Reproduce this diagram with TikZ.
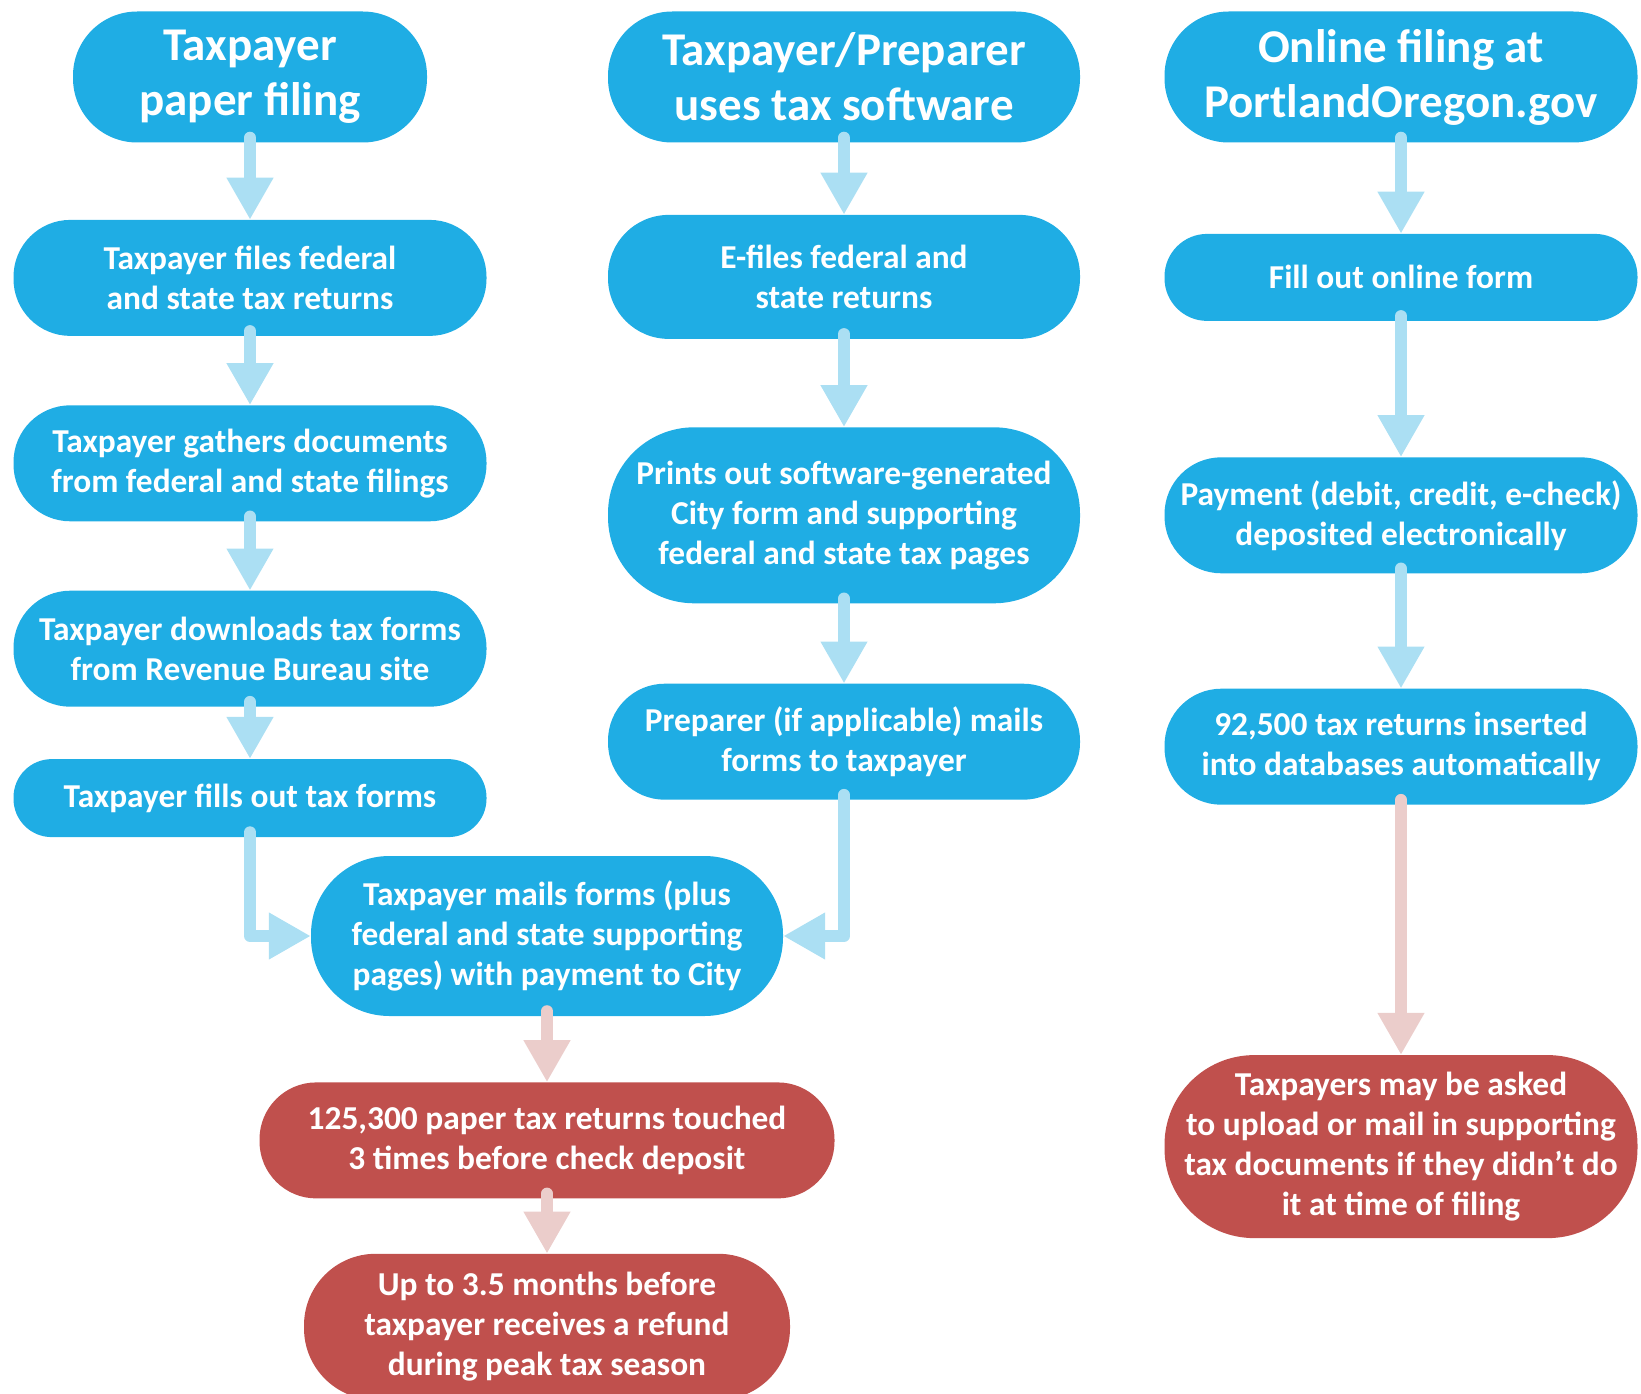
\documentclass[tikz,border=0pt]{standalone}
\usepackage{fontspec}
\setmainfont{Carlito}
\usepackage{xcolor}
\usepackage{tikz}
\definecolor{taxblue}{HTML}{1FADE4}
\definecolor{taxred}{HTML}{C0504D}
\definecolor{arrowblue}{HTML}{ABDFF3}
\definecolor{arrowpink}{HTML}{EBCDCB}
\tikzstyle{blueblock} = [rectangle, fill=taxblue, text=white, align=center,
    inner sep=0pt, font=\bfseries\fontsize{33.4}{40}\selectfont]
\tikzstyle{redblock} = [blueblock, fill=taxred]
\tikzstyle{headblock} = [blueblock, font=\bfseries\fontsize{47}{55}\selectfont]
\tikzstyle{bluearrow} = [draw=arrowblue, line width=12pt, line cap=round,
    line join=round, -{Triangle[length=42pt,width=44pt]}]
\tikzstyle{redarrow} = [bluearrow, draw=arrowpink]
\tikzset{pill/.style 2 args={minimum width=#1pt, minimum height=#2pt, rounded corners=#2*0.49pt}}
\usetikzlibrary{arrows.meta}
\usetikzlibrary{positioning}

\begin{document}
\begin{tikzpicture}[x=1pt,y=-1pt]
    \useasboundingbox (0,0) rectangle (1641,1394);

    % paper filing
    \node[headblock, pill={354}{131}] (paper) at (250,77) {Taxpayer\\paper filing};
    \node[blueblock, pill={473}{116}, below=77pt of paper] (files) {Taxpayer files federal\\and state tax returns};
    \node[blueblock, pill={473}{116}, below=69pt of files] (gathers) {Taxpayer gathers documents\\from federal and state filings};
    \node[blueblock, pill={473}{116}, below=69pt of gathers] (downloads) {Taxpayer downloads tax forms\\from Revenue Bureau site};
    \node[blueblock, pill={473}{78}, below=52pt of downloads] (fills) {Taxpayer fills out tax forms};

    \draw[bluearrow] ([yshift=5pt]paper.south) -- (files.north);
    \draw[bluearrow] ([yshift=5pt]files.south) -- (gathers.north);
    \draw[bluearrow] ([yshift=5pt]gathers.south) -- (downloads.north);
    \draw[bluearrow] ([yshift=5pt]downloads.south) -- (fills.north);

    % tax software
    \node[headblock, pill={472}{131}] (software) at (844,77) {Taxpayer/Preparer\\uses tax software};
    \node[blueblock, pill={472}{124}, below=72pt of software] (efiles) {E-files federal and\\state returns};
    \node[blueblock, pill={472}{176}, below=88pt of efiles] (prints) {Prints out software-generated\\City form and supporting\\federal and state tax pages};
    \node[blueblock, pill={472}{116}, below=80pt of prints] (preparer) {Preparer (if applicable) mails\\forms to taxpayer};

    \draw[bluearrow] ([yshift=5pt]software.south) -- (efiles.north);
    \draw[bluearrow] ([yshift=5pt]efiles.south) -- (prints.north);
    \draw[bluearrow] ([yshift=5pt]prints.south) -- (preparer.north);

    % online filing
    \node[headblock, pill={473}{131}] (online) at (1401,77) {Online filing at\\PortlandOregon.gov};
    \node[blueblock, pill={473}{87}, below=91pt of online] (fillout) {Fill out online form};
    \node[blueblock, pill={473}{116}, below=136pt of fillout] (payment) {Payment (debit, credit, e-check)\\deposited electronically};
    \node[blueblock, pill={473}{116}, below=115pt of payment] (inserted) {92,500 tax returns inserted\\into databases automatically};
    \node[redblock, pill={473}{183}, below=250pt of inserted] (upload) {Taxpayers may be asked\\to upload or mail in supporting\\tax documents if they didn’t do\\it at time of filing};

    \draw[bluearrow] ([yshift=5pt]online.south) -- (fillout.north);
    \draw[bluearrow] ([yshift=5pt]fillout.south) -- (payment.north);
    \draw[bluearrow] ([yshift=5pt]payment.south) -- (inserted.north);
    \draw[redarrow] ([yshift=5pt]inserted.south) -- (upload.north);

    % mailing to the City
    \node[blueblock, pill={472}{160}] (mails) at (547,936) {Taxpayer mails forms (plus\\federal and state supporting\\pages) with payment to City};
    \node[redblock, pill={575}{116}, below=66pt of mails] (touched) {125,300 paper tax returns touched\\3 times before check deposit};
    \node[redblock, pill={486}{146}, below=55pt of touched] (refund) {Up to 3.5 months before\\taxpayer receives a refund\\during peak tax season};

    \draw[bluearrow] ([yshift=5pt]fills.south) |- (mails.west);
    \draw[bluearrow] ([yshift=5pt]preparer.south) |- (mails.east);
    \draw[redarrow] ([yshift=5pt]mails.south) -- (touched.north);
    \draw[redarrow] ([yshift=5pt]touched.south) -- (refund.north);
\end{tikzpicture}
\end{document}
